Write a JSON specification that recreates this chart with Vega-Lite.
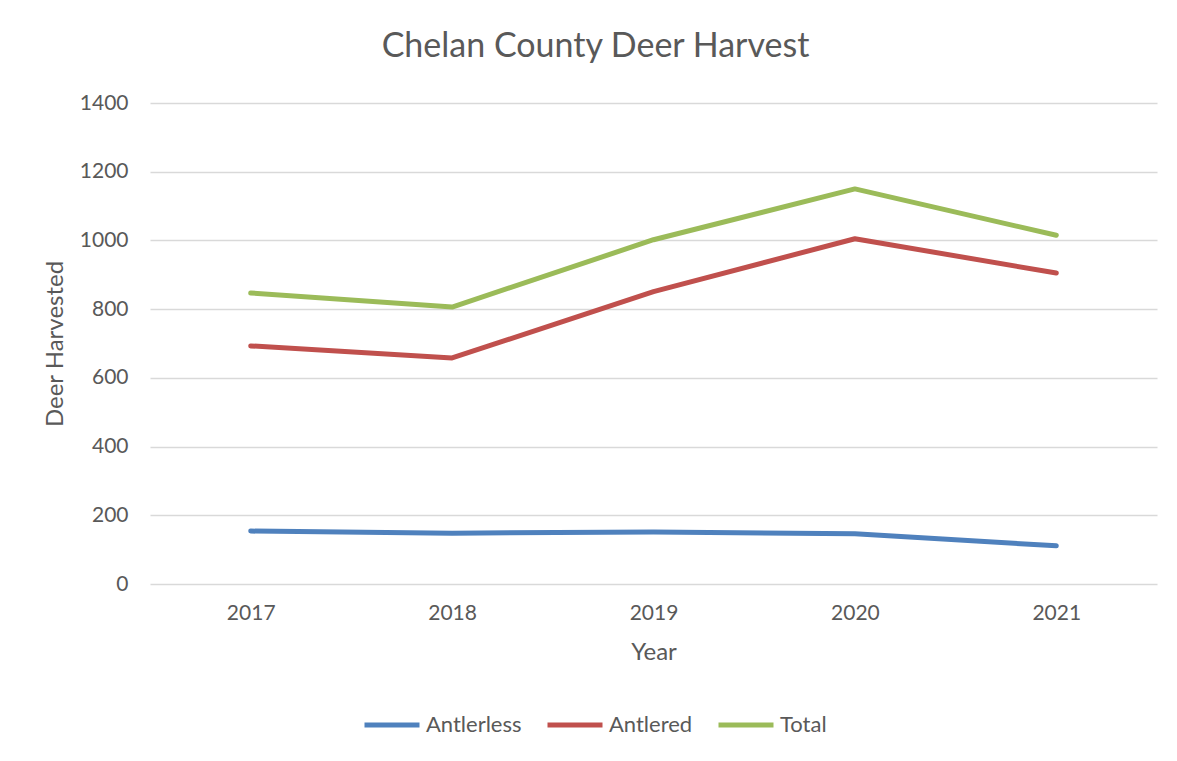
{
  "$schema": "https://vega.github.io/schema/vega-lite/v6.json",
  "autosize": "none",
  "width": 1007,
  "height": 481,
  "padding": {"left": 150, "top": 103, "right": 20, "bottom": 177},
  "background": "white",
  "title": {
    "text": "Chelan County Deer Harvest",
    "font": "Lato",
    "fontSize": 34,
    "fontWeight": "normal",
    "color": "#595959",
    "anchor": "middle",
    "dx": -58,
    "offset": 28
  },
  "data": {
    "values": [
      {"Year": "2017", "Series": "Antlerless", "Value": 154},
      {"Year": "2018", "Series": "Antlerless", "Value": 148},
      {"Year": "2019", "Series": "Antlerless", "Value": 151},
      {"Year": "2020", "Series": "Antlerless", "Value": 146},
      {"Year": "2021", "Series": "Antlerless", "Value": 111},
      {"Year": "2017", "Series": "Antlered", "Value": 693},
      {"Year": "2018", "Series": "Antlered", "Value": 658},
      {"Year": "2019", "Series": "Antlered", "Value": 851},
      {"Year": "2020", "Series": "Antlered", "Value": 1005},
      {"Year": "2021", "Series": "Antlered", "Value": 905},
      {"Year": "2017", "Series": "Total", "Value": 847},
      {"Year": "2018", "Series": "Total", "Value": 806},
      {"Year": "2019", "Series": "Total", "Value": 1002},
      {"Year": "2020", "Series": "Total", "Value": 1150},
      {"Year": "2021", "Series": "Total", "Value": 1015}
    ]
  },
  "mark": {"type": "line", "strokeWidth": 5, "strokeCap": "round", "strokeJoin": "round"},
  "encoding": {
    "x": {
      "field": "Year",
      "type": "ordinal",
      "scale": {"type": "point", "padding": 0.5},
      "axis": {
        "title": "Year",
        "labelAngle": 0,
        "domain": false,
        "ticks": false,
        "grid": false,
        "labelFont": "Lato",
        "labelFontSize": 21,
        "labelColor": "#595959",
        "labelPadding": 18,
        "titleFont": "Lato",
        "titleFontSize": 24,
        "titleFontWeight": "normal",
        "titleColor": "#595959",
        "titlePadding": 17
      }
    },
    "y": {
      "field": "Value",
      "type": "quantitative",
      "scale": {"domain": [0, 1400]},
      "axis": {
        "title": "Deer Harvested",
        "values": [0, 200, 400, 600, 800, 1000, 1200, 1400],
        "format": "d",
        "domain": false,
        "ticks": false,
        "gridColor": "#D9D9D9",
        "gridWidth": 1.5,
        "labelFont": "Lato",
        "labelFontSize": 21,
        "labelColor": "#595959",
        "labelPadding": 22,
        "titleFont": "Lato",
        "titleFontSize": 24,
        "titleFontWeight": "normal",
        "titleColor": "#595959",
        "titlePadding": 12
      }
    },
    "color": {
      "field": "Series",
      "type": "nominal",
      "sort": ["Antlerless", "Antlered", "Total"],
      "scale": {"domain": ["Antlerless", "Antlered", "Total"], "range": ["#4F81BD", "#C0504D", "#9BBB59"]},
      "legend": {
        "title": null,
        "orient": "none",
        "direction": "horizontal",
        "legendX": 212,
        "legendY": 592,
        "symbolType": "stroke",
        "symbolSize": 3025,
        "symbolStrokeWidth": 5,
        "symbolOffset": 0,
        "labelFont": "Lato",
        "labelFontSize": 22,
        "labelColor": "#595959",
        "labelOffset": 4,
        "columnPadding": 15
      }
    }
  },
  "config": {"view": {"stroke": null}}
}
